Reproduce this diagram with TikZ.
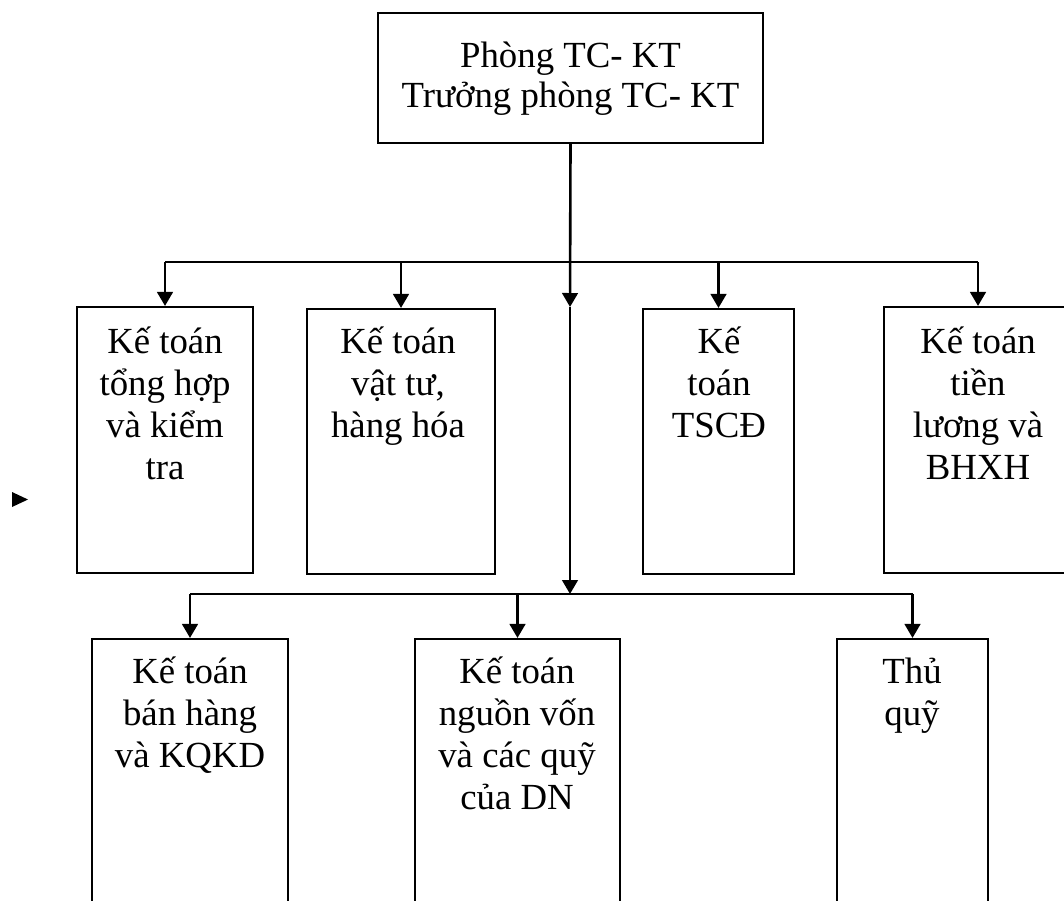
\documentclass[tikz,border=0pt]{standalone}
\usepackage{fontspec}
\setmainfont{Liberation Serif}
\usetikzlibrary{arrows.meta,fit}
\begin{document}
\begin{tikzpicture}[x=0.5pt,y=-0.5pt,
  box/.style={draw, line width=1.05pt, inner sep=0pt},
  lbl/.style={font=\fontsize{18.4}{21}\selectfont, align=center, anchor=base, inner sep=0pt},
  toplbl/.style={lbl, font=\fontsize{18.4}{20}\selectfont},
  bus/.style={line width=1.05pt},
  feed/.style={line width=1.3pt, -{Triangle[width=7.8pt,length=7pt]}}
]
\useasboundingbox (0,0) rectangle (1064,900);
\clip (0,0) rectangle (1064,900);

% head of the department (labels are placed by the baseline of their last line)
\node[box, fit={(378,13) (763,143)}] (top) {};
\node[toplbl] (topT) at (570.5,107) {Phòng TC- KT\\Trưởng phòng TC- KT};

% first row of accountants
\node[box, fit={(77,307) (253,573)}] (r1a) {};
\node[box, fit={(307,309) (495,574)}] (r1b) {};
\node[box, fit={(643,309) (794,574)}] (r1c) {};
\node[box, fit={(884,307) (1072,573)}] (r1d) {};
\node[lbl] (r1aT) at (165,479) {Kế toán\\tổng hợp\\và kiểm\\tra};
\node[lbl] (r1bT) at (398,437) {Kế toán\\vật tư,\\hàng hóa};
\node[lbl] (r1cT) at (719,437) {Kế\\toán\\TSCĐ};
\node[lbl] (r1dT) at (978,479) {Kế toán\\tiền\\lương và\\BHXH};

% second row (boxes run past the lower edge)
\node[box, fit={(92,639) (288,915)}] (r2a) {};
\node[box, fit={(415,639) (620,915)}] (r2b) {};
\node[box, fit={(837,639) (988,915)}] (r2c) {};
\node[lbl] (r2aT) at (190,767) {Kế toán\\bán hàng\\và KQKD};
\node[lbl] (r2bT) at (517,809) {Kế toán\\nguồn vốn\\và các quỹ\\của DN};
\node[lbl] (r2cT) at (912,725) {Thủ\\quỹ};

% main trunk
\coordinate (m1) at (570,307);
\coordinate (m2) at (570,594);
\draw[feed] (top.south) -- (m1);
\draw[feed] (m1) -- (m2);

% upper bus
\coordinate (b1L) at (165,262);
\coordinate (b1R) at (978,262);
\draw[bus] (b1L) -- (b1R);
\draw[feed] (r1a.north |- b1L) -- (r1a.north);
\draw[feed] (r1b.north |- b1L) -- (r1b.north);
\draw[feed] (r1c.north |- b1L) -- (r1c.north);
\draw[feed] (r1d.north |- b1L) -- (r1d.north);

% lower bus
\coordinate (b2L) at (190,594);
\coordinate (b2R) at (912.5,594);
\draw[bus] (b2L) -- (b2R);
\draw[feed] (r2a.north |- b2L) -- (r2a.north);
\draw[feed] (r2b.north |- b2L) -- (r2b.north);
\draw[feed] (r2c.north |- b2L) -- (r2c.north);

% small marker at the left margin
\fill (12,492) -- (28,499.5) -- (12,507) -- cycle;
\end{tikzpicture}
\end{document}
